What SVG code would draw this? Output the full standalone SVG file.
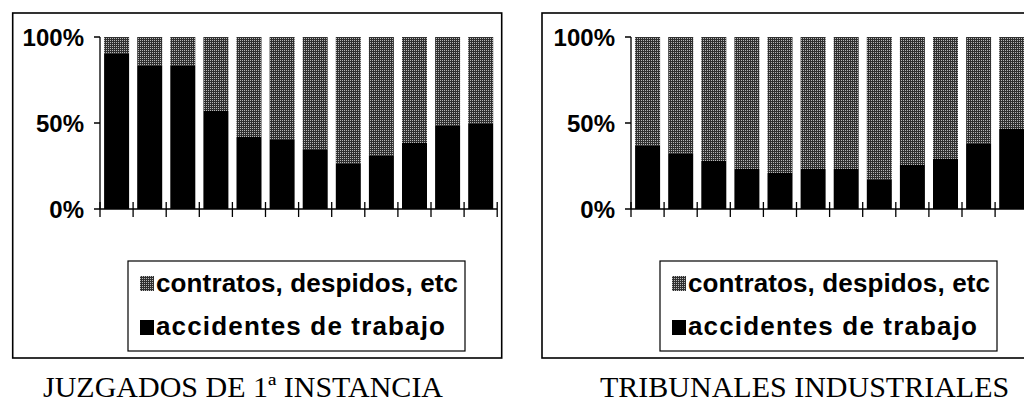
<svg xmlns="http://www.w3.org/2000/svg" width="1024" height="410" viewBox="0 0 1024 410">
<style>
.frame{fill:none;stroke:#000;stroke-width:1.6}
.leg{fill:#fff;stroke:#000;stroke-width:1.2}
.axis{stroke:#000;stroke-width:1.3;fill:none}
.acc{fill:#000}
.con{fill:url(#dots)}
.ylab{font-family:"Liberation Sans",Arial,sans-serif;font-weight:bold;font-size:24px;text-anchor:end;fill:#000}
.ltxt{font-family:"Liberation Sans",Arial,sans-serif;font-weight:bold;font-size:26px;fill:#000}
.title{font-family:"Liberation Serif","Times New Roman",serif;font-size:30px;fill:#000}
</style>
<defs>
<pattern id="dots" width="2" height="2" patternUnits="userSpaceOnUse">
<rect width="2" height="2" fill="#303030"/>
<rect width="1" height="1" fill="#b8b8b8"/>
</pattern>
<g id="bars-axis">
<path class="axis" d="M100,37 V209 M94,37 H100 M94,123 H100 M94,209 H497"/>
<path class="axis" d="M100,202 V217 M133.1,202 V217 M166.2,202 V217 M199.3,202 V217 M232.4,202 V217 M265.5,202 V217 M298.6,202 V217 M331.7,202 V217 M364.8,202 V217 M397.9,202 V217 M431,202 V217 M464.1,202 V217 M497.2,202 V217"/>
</g>
</defs>
<rect width="1024" height="410" fill="#fff"/>

<g id="chart-juzgados">
<rect class="frame" x="12.7" y="13" width="489" height="345"/>
<text class="ylab" x="84" y="46">100%</text>
<text class="ylab" x="84" y="132">50%</text>
<text class="ylab" x="84" y="218">0%</text>
<g id="bars-left">
<rect class="con" x="104.1" y="37" width="25" height="17"/><rect class="acc" x="104.1" y="54" width="25" height="155"/>
<rect class="con" x="137.2" y="37" width="25" height="29"/><rect class="acc" x="137.2" y="66" width="25" height="143"/>
<rect class="con" x="170.3" y="37" width="25" height="29"/><rect class="acc" x="170.3" y="66" width="25" height="143"/>
<rect class="con" x="203.4" y="37" width="25" height="74"/><rect class="acc" x="203.4" y="111" width="25" height="98"/>
<rect class="con" x="236.5" y="37" width="25" height="100"/><rect class="acc" x="236.5" y="137" width="25" height="72"/>
<rect class="con" x="269.6" y="37" width="25" height="103"/><rect class="acc" x="269.6" y="140" width="25" height="69"/>
<rect class="con" x="302.7" y="37" width="25" height="113"/><rect class="acc" x="302.7" y="150" width="25" height="59"/>
<rect class="con" x="335.8" y="37" width="25" height="127"/><rect class="acc" x="335.8" y="164" width="25" height="45"/>
<rect class="con" x="368.9" y="37" width="25" height="119"/><rect class="acc" x="368.9" y="156" width="25" height="53"/>
<rect class="con" x="402" y="37" width="25" height="106"/><rect class="acc" x="402" y="143" width="25" height="66"/>
<rect class="con" x="435.1" y="37" width="25" height="89"/><rect class="acc" x="435.1" y="126" width="25" height="83"/>
<rect class="con" x="468.2" y="37" width="25" height="87"/><rect class="acc" x="468.2" y="124" width="25" height="85"/>
</g>
<use href="#bars-axis"/>
<g id="legend-left">
<rect class="leg" x="128" y="261" width="337" height="90"/>
<rect class="con" x="140" y="276" width="14" height="15"/>
<text class="ltxt" x="156" y="292" textLength="302" lengthAdjust="spacing">contratos, despidos, etc</text>
<rect class="acc" x="140" y="320" width="14" height="15"/>
<text class="ltxt" x="156" y="335" textLength="289" lengthAdjust="spacing">accidentes de trabajo</text>
</g>
<text class="title" x="43" y="397">JUZGADOS DE 1ª INSTANCIA</text>
</g>

<g id="chart-tribunales">
<rect class="frame" x="542" y="13" width="500" height="345"/>
<text class="ylab" x="615" y="46">100%</text>
<text class="ylab" x="615" y="132">50%</text>
<text class="ylab" x="615" y="218">0%</text>
<g id="bars-right" transform="translate(531,0)">
<rect class="con" x="104.1" y="37" width="25" height="109"/><rect class="acc" x="104.1" y="146" width="25" height="63"/>
<rect class="con" x="137.2" y="37" width="25" height="117"/><rect class="acc" x="137.2" y="154" width="25" height="55"/>
<rect class="con" x="170.3" y="37" width="25" height="124"/><rect class="acc" x="170.3" y="161" width="25" height="48"/>
<rect class="con" x="203.4" y="37" width="25" height="132"/><rect class="acc" x="203.4" y="169" width="25" height="40"/>
<rect class="con" x="236.5" y="37" width="25" height="136"/><rect class="acc" x="236.5" y="173" width="25" height="36"/>
<rect class="con" x="269.6" y="37" width="25" height="132"/><rect class="acc" x="269.6" y="169" width="25" height="40"/>
<rect class="con" x="302.7" y="37" width="25" height="132"/><rect class="acc" x="302.7" y="169" width="25" height="40"/>
<rect class="con" x="335.8" y="37" width="25" height="143"/><rect class="acc" x="335.8" y="180" width="25" height="29"/>
<rect class="con" x="368.9" y="37" width="25" height="128"/><rect class="acc" x="368.9" y="165" width="25" height="44"/>
<rect class="con" x="402" y="37" width="25" height="122"/><rect class="acc" x="402" y="159" width="25" height="50"/>
<rect class="con" x="435.1" y="37" width="25" height="107"/><rect class="acc" x="435.1" y="144" width="25" height="65"/>
<rect class="con" x="468.2" y="37" width="25" height="92"/><rect class="acc" x="468.2" y="129" width="25" height="80"/>
<use href="#bars-axis"/>
</g>
<g id="legend-right">
<rect class="leg" x="660" y="261" width="337" height="90"/>
<rect class="con" x="672" y="276" width="14" height="15"/>
<text class="ltxt" x="688" y="292" textLength="302" lengthAdjust="spacing">contratos, despidos, etc</text>
<rect class="acc" x="672" y="320" width="14" height="15"/>
<text class="ltxt" x="688" y="335" textLength="289" lengthAdjust="spacing">accidentes de trabajo</text>
</g>
<text class="title" x="600" y="397">TRIBUNALES INDUSTRIALES</text>
</g>
<g id="connectors"/>
</svg>
